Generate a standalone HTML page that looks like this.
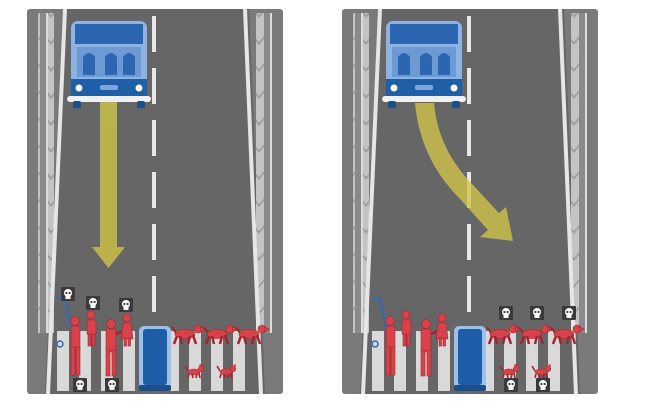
<!DOCTYPE html>
<html><head><meta charset="utf-8"><style>
html,body{margin:0;padding:0;background:#fff;width:650px;height:401px;overflow:hidden}
svg{display:block}
</style></head><body>
<svg width="650" height="401" viewBox="0 0 650 401" xmlns="http://www.w3.org/2000/svg">
<defs>
<pattern id="barr" x="0" y="0" width="16" height="27" patternUnits="userSpaceOnUse">
<rect x="0" y="0" width="16" height="27" fill="#8a8a8a"/>
<rect x="3" y="0" width="10" height="27" fill="#c4c4c4"/>
<path d="M3 0 L8 6 L13 0 L13 3 L8 9 L3 3Z" fill="#a0a0a0"/>
<rect x="3" y="0" width="2" height="27" fill="#dcdcdc"/>
</pattern>
<g id="skull"><rect x="-7" y="-7" width="14" height="14" rx="1" fill="#3a3a3a"/><circle cx="0" cy="-1" r="4" fill="#fff"/><rect x="-2.5" y="1" width="5" height="4" fill="#fff"/><circle cx="-1.6" cy="-1" r="1.1" fill="#3a3a3a"/><circle cx="1.6" cy="-1" r="1.1" fill="#3a3a3a"/></g>
<g id="dog" fill="#d8434b" stroke="#a8222b" stroke-width="0.6">
<ellipse cx="14" cy="10" rx="10" ry="4.5"/>
<circle cx="27" cy="5" r="4"/><path d="M29 3 L34 5 L30 8Z"/>
<path d="M5 9 L1 3" stroke-width="2"/>
<path d="M6 12 L3 20 M9 12 L11 20 M19 12 L17 20 M22 11 L25 20" stroke-width="2.5"/>
</g>
<g id="cat" fill="#d8434b" stroke="#a8222b" stroke-width="0.5">
<ellipse cx="9" cy="8" rx="6" ry="3"/><circle cx="16" cy="5" r="2.8"/>
<path d="M14.5 2.5 L15 0 L16.5 2.5 M16.5 2.5 L18 0 L18.5 3" />
<path d="M3 7 L0 2" stroke-width="1.5" fill="none"/>
<path d="M4 10 L3 14 M7 10 L8 14 M12 10 L11 14 M14 9 L15 14" stroke-width="1.6"/>
</g>
<g id="panel">
<rect x="0" y="0" width="256" height="385" rx="3" fill="#7a7a7a"/>
<polygon points="36,0 222,0 238,385 18,385" fill="#666"/>
<rect x="11" y="4" width="16" height="320" fill="url(#barr)"/>
<rect x="229" y="4" width="16" height="320" fill="url(#barr)"/>
<polygon points="36,0 40,0 23,385 19,385" fill="#e6e6e6"/>
<polygon points="216,0 220,0 236,385 232,385" fill="#e6e6e6"/>
<g fill="#e8e8e8">
<rect x="125" y="7" width="4" height="36"/><rect x="125" y="59" width="4" height="36"/><rect x="125" y="111" width="4" height="36"/><rect x="125" y="163" width="4" height="36"/><rect x="125" y="215" width="4" height="36"/><rect x="125" y="267" width="4" height="36"/>
</g>
<g fill="#d9d9d9">
<rect x="30" y="322" width="12" height="60"/><rect x="52" y="322" width="12" height="60"/><rect x="74" y="322" width="12" height="60"/><rect x="96" y="322" width="12" height="60"/>
<rect x="140" y="322" width="12" height="60"/><rect x="162" y="322" width="12" height="60"/><rect x="184" y="322" width="12" height="60"/><rect x="206" y="322" width="12" height="60"/>
</g>
<rect x="112" y="317" width="32" height="63" rx="5" fill="#9ec0e8"/>
<rect x="116" y="320" width="24" height="56" rx="3" fill="#1e5ea8"/>
<rect x="112" y="376" width="32" height="6" rx="2" fill="#1a4f8c"/>
<g>
<rect x="44" y="12" width="76" height="80" rx="7" fill="#8fb3e0"/>
<rect x="48" y="15" width="68" height="20" fill="#2d66b0"/>
<rect x="50" y="38" width="64" height="30" fill="#6d9ad4"/>
<path d="M56 66 L56 48 Q62 40 68 48 L68 66Z M78 66 L78 48 Q84 40 90 48 L90 66Z M96 66 L96 48 Q102 40 108 48 L108 66Z" fill="#2d66b0"/>
<rect x="44" y="70" width="76" height="18" fill="#1f5fa8"/>
<circle cx="52" cy="79" r="3.5" fill="#fff"/><circle cx="112" cy="79" r="3.5" fill="#fff"/>
<rect x="73" y="76" width="18" height="5" rx="2" fill="#7fa6da"/>
<rect x="40" y="87" width="84" height="6" rx="3" fill="#f0f0f0"/>
<rect x="46" y="92" width="8" height="7" rx="2" fill="#1a4f8c"/><rect x="110" y="92" width="8" height="7" rx="2" fill="#1a4f8c"/>
</g>
<g fill="#d8434b" stroke="#a8222b" stroke-width="0.6">
<path d="M30 289 L38 290 L44 318 L46 330" fill="none" stroke="#2d6cc0" stroke-width="2"/>
<circle cx="33" cy="335" r="3" fill="none" stroke="#2d6cc0" stroke-width="1.5"/>
<circle cx="48" cy="312" r="4.5"/>
<rect x="44" y="317" width="9" height="23" rx="2"/>
<rect x="44" y="338" width="4" height="28"/><rect x="49" y="338" width="4" height="28"/>
<circle cx="64" cy="306" r="4"/><rect x="60" y="311" width="9" height="15" rx="2"/>
<rect x="61" y="325" width="3" height="12"/><rect x="65" y="325" width="3" height="12"/>
<circle cx="84" cy="315" r="4.5"/><rect x="79" y="320" width="10" height="23" rx="2"/>
<path d="M89 325 L96 322" stroke-width="2.5"/>
<rect x="79" y="341" width="4" height="26"/><rect x="85" y="341" width="4" height="26"/>
<circle cx="100" cy="309" r="4"/><path d="M96 314 L104 314 L106 330 L94 330Z"/>
<rect x="97" y="329" width="2.5" height="8"/><rect x="101" y="329" width="2.5" height="8"/>
</g>
<use href="#dog" x="144" y="315"/><use href="#dog" x="176" y="315"/><use href="#dog" x="208" y="315"/>
<use href="#cat" x="158" y="355"/><use href="#cat" x="190" y="355"/>
</g>
</defs>
<g transform="translate(27,9)">
<use href="#panel"/>
<g opacity="0.85">
<rect x="73" y="93" width="17" height="145" fill="#c9bf48"/>
<polygon points="65,238 98,238 81.5,259" fill="#c9bf48"/>
</g>
<use href="#skull" x="41" y="285"/><use href="#skull" x="66" y="294"/><use href="#skull" x="99" y="296"/>
<use href="#skull" x="53" y="376"/><use href="#skull" x="85" y="376"/>
</g>
<g transform="translate(342,9)">
<use href="#panel"/>
<g opacity="0.8" fill="#d1c34a">
<path d="M73 94 L92 94 Q96 140 130 175 L157 204 L164 198 L171 232 L138 228 L146 221 L118 190 Q78 150 73 94Z"/>
</g>
<use href="#skull" x="164" y="304"/><use href="#skull" x="195" y="304"/><use href="#skull" x="227" y="304"/>
<use href="#skull" x="169" y="376"/><use href="#skull" x="201" y="376"/>
</g>
</svg>
</body></html>
